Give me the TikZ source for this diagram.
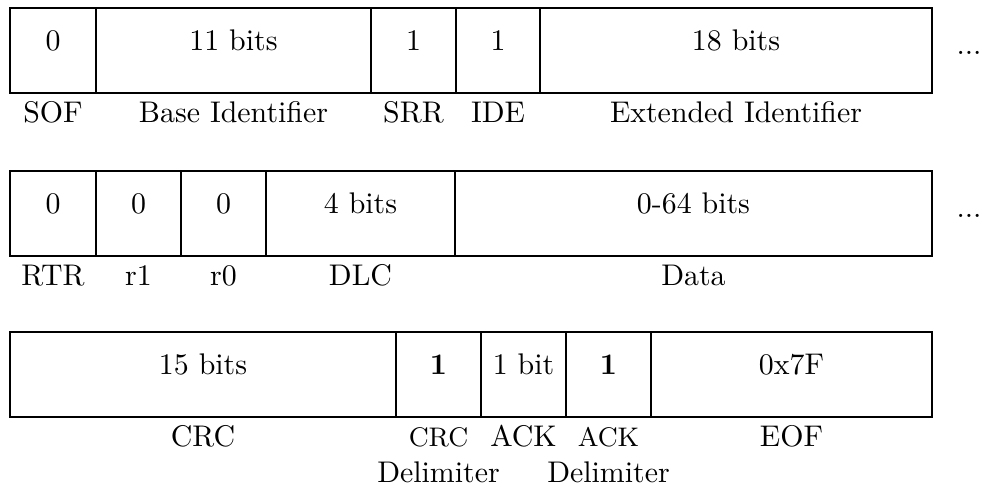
\documentclass[tikz,border=0pt]{standalone}
\usetikzlibrary{fit}
\begin{document}
\begin{tikzpicture}[x=0.011765cm,y=-0.011765cm,
  cell/.style={draw, line width=0.4pt, inner sep=0pt, outer sep=0pt},
  delim/.style={draw, line width=0.8pt, inner sep=0pt, outer sep=0pt, font=\bfseries},
  lbl/.style={anchor=base, inner sep=0pt},
  dotsnode/.style={inner sep=0pt}]
\useasboundingbox (0,0) rectangle (982,489);
% ---- row 1
\node[cell, fit={(10,8) (96,93)}]   (sof) {0};
\node[cell, fit={(96,8) (371,93)}]  (bid) {11 bits};
\node[cell, fit={(371,8) (456,93)}] (srr) {1};
\node[cell, fit={(456,8) (540,93)}] (ide) {1};
\node[cell, fit={(540,8) (932,93)}] (eid) {18 bits};
\node[dotsnode] (dots1) at (969,53) {...};
\node[lbl] (lsof) at (53,123)    {SOF};
\node[lbl] (lbid) at (233.5,123) {Base Identifier};
\node[lbl] (lsrr) at (413.5,123) {SRR};
\node[lbl] (lide) at (498,123)   {IDE};
\node[lbl] (leid) at (736,123)   {Extended Identifier};
% ---- row 2
\node[cell, fit={(10,171) (96,256)}]   (rtr) {0};
\node[cell, fit={(96,171) (181,256)}]  (rone) {0};
\node[cell, fit={(181,171) (266,256)}] (rzero) {0};
\node[cell, fit={(266,171) (455,256)}] (dlc) {4 bits};
\node[cell, fit={(455,171) (932,256)}] (data) {0-64 bits};
\node[dotsnode] (dots2) at (969,216) {...};
\node[lbl] (lrtr) at (53,286)    {RTR};
\node[lbl] (lrone) at (138.5,286) {r1};
\node[lbl] (lrzero) at (223.5,286) {r0};
\node[lbl] (ldlc) at (360.5,286) {DLC};
\node[lbl] (ldata) at (693.5,286) {Data};
% ---- row 3
\node[cell, fit={(10,332) (396,417)}]  (crc) {15 bits};
\node[cell, fit={(481,332) (566,417)}] (ack) {1 bit};
\node[cell, fit={(651,332) (932,417)}] (eof) {0x7F};
\node[delim, fit={(396,332) (481,417)}] (crcd) {1};
\node[delim, fit={(566,332) (651,417)}] (ackd) {1};
\node[lbl] (lcrc) at (203,447) {CRC};
\node[lbl, font=\small] (lcrcda) at (438.5,447) {CRC};
\node[lbl] (lcrcdb) at (438.5,483) {Delimiter};
\node[lbl] (lack) at (523.5,447) {ACK};
\node[lbl, font=\small] (lackda) at (608.5,447) {ACK};
\node[lbl] (lackdb) at (608.5,483) {Delimiter};
\node[lbl] (leof) at (791.5,447) {EOF};
\end{tikzpicture}
\end{document}
